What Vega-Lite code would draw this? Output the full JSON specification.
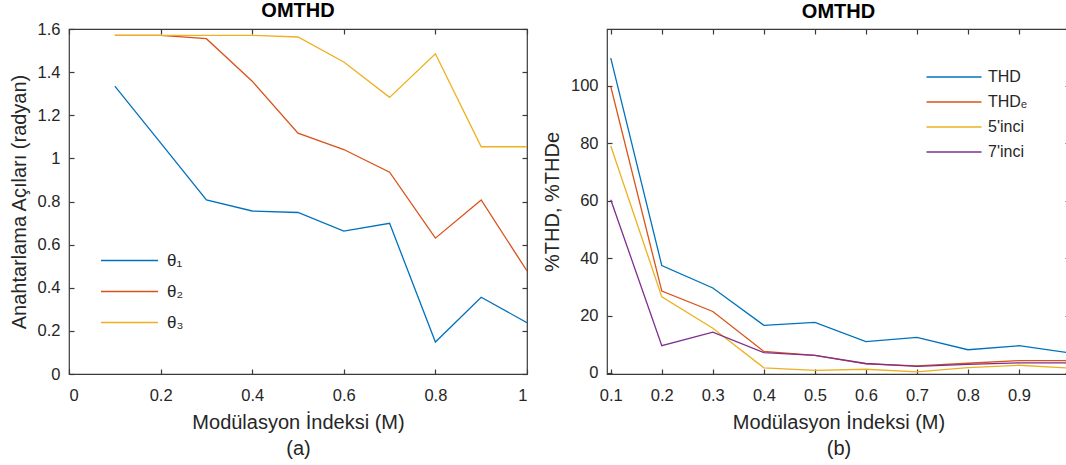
{
  "$schema": "https://vega.github.io/schema/vega-lite/v6.json",
  "padding": {"left": 8, "top": 0, "right": 0, "bottom": 0},
  "background": "white",
  "config": {
    "font": "Liberation Sans",
    "view": {"stroke": "#3a3a3a", "strokeWidth": 1.2},
    "axis": {"grid": false, "domain": false, "tickSize": -5, "tickColor": "#3a3a3a", "tickWidth": 1.2, "labelFont": "Liberation Sans", "labelFontSize": 16.5, "labelColor": "#262626", "titleFont": "Liberation Sans", "titleFontSize": 20, "titleFontWeight": "normal", "titleColor": "#262626"},
    "title": {"font": "Liberation Sans", "fontSize": 20, "fontWeight": "bold", "color": "#000000"},
    "legend": {"labelFont": "Liberation Sans", "labelFontSize": 17, "labelColor": "#262626", "symbolType": "M-5,0H5", "symbolStrokeWidth": 1.6, "padding": 0}
  },
  "datasets": {
    "angles": [
      {"m": 0.1, "s": "θ₁", "v": 1.335}, {"m": 0.2, "s": "θ₁", "v": 1.072}, {"m": 0.3, "s": "θ₁", "v": 0.807}, {"m": 0.4, "s": "θ₁", "v": 0.756}, {"m": 0.5, "s": "θ₁", "v": 0.749}, {"m": 0.6, "s": "θ₁", "v": 0.663}, {"m": 0.7, "s": "θ₁", "v": 0.699}, {"m": 0.8, "s": "θ₁", "v": 0.148}, {"m": 0.9, "s": "θ₁", "v": 0.356}, {"m": 1.0, "s": "θ₁", "v": 0.238},
      {"m": 0.1, "s": "θ₂", "v": 1.5708}, {"m": 0.2, "s": "θ₂", "v": 1.5708}, {"m": 0.3, "s": "θ₂", "v": 1.555}, {"m": 0.4, "s": "θ₂", "v": 1.358}, {"m": 0.5, "s": "θ₂", "v": 1.117}, {"m": 0.6, "s": "θ₂", "v": 1.041}, {"m": 0.7, "s": "θ₂", "v": 0.936}, {"m": 0.8, "s": "θ₂", "v": 0.630}, {"m": 0.9, "s": "θ₂", "v": 0.807}, {"m": 1.0, "s": "θ₂", "v": 0.478},
      {"m": 0.1, "s": "θ₃", "v": 1.5708}, {"m": 0.2, "s": "θ₃", "v": 1.5708}, {"m": 0.3, "s": "θ₃", "v": 1.5705}, {"m": 0.4, "s": "θ₃", "v": 1.5703}, {"m": 0.5, "s": "θ₃", "v": 1.563}, {"m": 0.6, "s": "θ₃", "v": 1.447}, {"m": 0.7, "s": "θ₃", "v": 1.283}, {"m": 0.8, "s": "θ₃", "v": 1.485}, {"m": 0.9, "s": "θ₃", "v": 1.054}, {"m": 1.0, "s": "θ₃", "v": 1.054}
    ],
    "thd": [
      {"m": 0.1, "s": "THD", "v": 109.6}, {"m": 0.2, "s": "THD", "v": 37.4}, {"m": 0.3, "s": "THD", "v": 29.6}, {"m": 0.4, "s": "THD", "v": 16.6}, {"m": 0.5, "s": "THD", "v": 17.6}, {"m": 0.6, "s": "THD", "v": 10.9}, {"m": 0.7, "s": "THD", "v": 12.4}, {"m": 0.8, "s": "THD", "v": 8.1}, {"m": 0.9, "s": "THD", "v": 9.5}, {"m": 1.0, "s": "THD", "v": 7.0},
      {"m": 0.1, "s": "THDₑ", "v": 99.7}, {"m": 0.2, "s": "THDₑ", "v": 28.5}, {"m": 0.3, "s": "THDₑ", "v": 21.4}, {"m": 0.4, "s": "THDₑ", "v": 7.5}, {"m": 0.5, "s": "THDₑ", "v": 6.1}, {"m": 0.6, "s": "THDₑ", "v": 3.2}, {"m": 0.7, "s": "THDₑ", "v": 2.5}, {"m": 0.8, "s": "THDₑ", "v": 3.4}, {"m": 0.9, "s": "THDₑ", "v": 4.3}, {"m": 1.0, "s": "THDₑ", "v": 4.3},
      {"m": 0.1, "s": "5'inci", "v": 79.0}, {"m": 0.2, "s": "5'inci", "v": 26.5}, {"m": 0.3, "s": "5'inci", "v": 15.6}, {"m": 0.4, "s": "5'inci", "v": 1.8}, {"m": 0.5, "s": "5'inci", "v": 0.9}, {"m": 0.6, "s": "5'inci", "v": 1.3}, {"m": 0.7, "s": "5'inci", "v": 0.4}, {"m": 0.8, "s": "5'inci", "v": 1.9}, {"m": 0.9, "s": "5'inci", "v": 2.7}, {"m": 1.0, "s": "5'inci", "v": 1.7},
      {"m": 0.1, "s": "7'inci", "v": 60.3}, {"m": 0.2, "s": "7'inci", "v": 9.5}, {"m": 0.3, "s": "7'inci", "v": 14.2}, {"m": 0.4, "s": "7'inci", "v": 7.1}, {"m": 0.5, "s": "7'inci", "v": 6.1}, {"m": 0.6, "s": "7'inci", "v": 3.3}, {"m": 0.7, "s": "7'inci", "v": 2.3}, {"m": 0.8, "s": "7'inci", "v": 3.0}, {"m": 0.9, "s": "7'inci", "v": 3.5}, {"m": 1.0, "s": "7'inci", "v": 3.5}
    ]
  },
  "hconcat": [
    {
      "width": 458,
      "height": 345,
      "title": {"text": "OMTHD", "offset": 0},
      "data": {"name": "angles"},
      "layer": [
        {
          "mark": {"type": "line", "strokeWidth": 1.3, "clip": true},
          "encoding": {
            "x": {"field": "m", "type": "quantitative", "scale": {"domain": [0, 1], "nice": false, "zero": false},
                  "axis": {"values": [0, 0.2, 0.4, 0.6, 0.8, 1], "format": "~g", "labelPadding": 18, "title": ["Modülasyon İndeksi (M)", "(a)"], "titleLineHeight": 26, "titlePadding": 9}},
            "y": {"field": "v", "type": "quantitative", "scale": {"domain": [0, 1.6], "nice": false, "zero": false},
                  "axis": {"values": [0, 0.2, 0.4, 0.6, 0.8, 1, 1.2, 1.4, 1.6], "format": "~g", "labelPadding": 14, "title": "Anahtarlama Açıları (radyan)", "titlePadding": 8}},
            "color": {"field": "s", "type": "nominal",
                      "scale": {"domain": ["θ₁", "θ₂", "θ₃"], "range": ["#0072BD", "#D95319", "#EDB120"]},
                      "legend": {"title": null, "orient": "none", "legendX": 52, "legendY": 223, "symbolSize": 130, "rowPadding": 13, "labelOffset": 29}}
          }
        },
        {
          "mark": {"type": "line", "opacity": 0},
          "encoding": {
            "x": {"field": "m", "type": "quantitative", "scale": {"domain": [0, 1], "nice": false, "zero": false},
                  "axis": {"orient": "top", "values": [0, 0.2, 0.4, 0.6, 0.8, 1], "labels": false, "title": null}},
            "y": {"field": "v", "type": "quantitative", "scale": {"domain": [0, 1.6], "nice": false, "zero": false},
                  "axis": {"orient": "right", "values": [0, 0.2, 0.4, 0.6, 0.8, 1, 1.2, 1.4, 1.6], "labels": false, "title": null}},
            "detail": {"field": "s"}
          }
        }
      ],
      "resolve": {"axis": {"x": "independent", "y": "independent"}}
    },
    {
      "width": 463,
      "height": 345,
      "title": {"text": "OMTHD", "offset": 6.5},
      "data": {"name": "thd"},
      "layer": [
        {
          "mark": {"type": "line", "strokeWidth": 1.3, "clip": true},
          "encoding": {
            "x": {"field": "m", "type": "quantitative", "scale": {"domain": [0.0926, 1.0], "nice": false, "zero": false},
                  "axis": {"values": [0.1, 0.2, 0.3, 0.4, 0.5, 0.6, 0.7, 0.8, 0.9], "format": "~g", "labelPadding": 18, "title": ["Modülasyon İndeksi (M)", "(b)"], "titleLineHeight": 26, "titlePadding": 9}},
            "y": {"field": "v", "type": "quantitative", "scale": {"domain": [-0.35, 119.75], "nice": false, "zero": false},
                  "axis": {"values": [0, 20, 40, 60, 80, 100], "labelPadding": 14, "title": "%THD, %THDe", "titlePadding": 8}},
            "color": {"field": "s", "type": "nominal",
                      "scale": {"domain": ["THD", "THDₑ", "5'inci", "7'inci"], "range": ["#0072BD", "#D95319", "#EDB120", "#7E2F8E"]},
                      "legend": {"title": null, "orient": "none", "legendX": 339, "legendY": 40, "symbolSize": 121, "rowPadding": 9, "labelOffset": 26, "labelFontSize": 16}}
          }
        },
        {
          "mark": {"type": "line", "opacity": 0},
          "encoding": {
            "x": {"field": "m", "type": "quantitative", "scale": {"domain": [0.0926, 1.0], "nice": false, "zero": false},
                  "axis": {"orient": "top", "values": [0.1, 0.2, 0.3, 0.4, 0.5, 0.6, 0.7, 0.8, 0.9, 1.0], "labels": false, "title": null}},
            "y": {"field": "v", "type": "quantitative", "scale": {"domain": [-0.35, 119.75], "nice": false, "zero": false},
                  "axis": {"orient": "right", "values": [0, 20, 40, 60, 80, 100], "labels": false, "title": null}},
            "detail": {"field": "s"}
          }
        }
      ],
      "resolve": {"axis": {"x": "independent", "y": "independent"}}
    }
  ],
  "resolve": {"scale": {"color": "independent"}, "legend": {"color": "independent"}},
  "spacing": 80,
  "bounds": "flush"
}
